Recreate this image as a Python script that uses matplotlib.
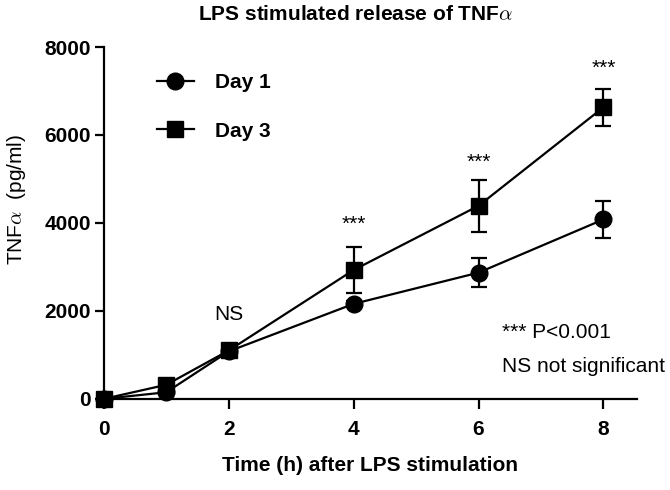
import matplotlib
matplotlib.use('Agg')
import matplotlib.pyplot as plt
from matplotlib.lines import Line2D

plt.rcParams['font.family'] = ['Liberation Sans', 'DejaVu Sans']
plt.rcParams['mathtext.fontset'] = 'cm'

# data
times = [0, 1, 2, 4, 6, 8]
day1 = [0, 150, 1080, 2160, 2870, 4080]
day1_err = [0, 0, 0, 60, 335, 420]
day3 = [0, 320, 1100, 2930, 4390, 6630]
day3_err = [0, 0, 0, 525, 590, 425]

star_x = [4, 6, 8]
star_y = [3980, 5370, 7520]
ns_x, ns_y = 2, 1910

fig = plt.figure(figsize=(6.7, 4.9), dpi=100)
ax = fig.add_axes([0.155, 0.186, 0.796, 0.718])

style = dict(color='black', lw=1.6, elinewidth=1.6, capsize=6, capthick=1.6, clip_on=False)
ax.errorbar(times, day1, yerr=day1_err, fmt='-o', ms=12, zorder=3, **style)
ax.errorbar(times, day3, yerr=day3_err, fmt='-s', ms=11, zorder=4, **style)

for x, y in zip(star_x, star_y):
    ax.text(x, y, '***', ha='center', va='center', fontsize=15)
ax.text(ns_x, ns_y, 'NS', ha='center', va='center', fontsize=15)
ax.text(6.38, 1500, '*** P<0.001', ha='left', va='center', fontsize=15)
ax.text(6.38, 730, 'NS not significant', ha='left', va='center', fontsize=15)

ax.set_xlim(0, 8.54)
ax.set_ylim(0, 8000)
ax.set_xticks([0, 2, 4, 6, 8])
ax.set_yticks([0, 2000, 4000, 6000, 8000])
ax.spines['top'].set_visible(False)
ax.spines['right'].set_visible(False)
ax.spines['left'].set_linewidth(1.6)
ax.spines['bottom'].set_linewidth(1.6)
ax.tick_params(axis='x', length=7, width=1.6, pad=8, labelsize=15)
ax.tick_params(axis='y', length=6.5, width=1.6, pad=3, labelsize=15)
for lab in ax.get_xticklabels() + ax.get_yticklabels():
    lab.set_fontweight('bold')

handles = [Line2D([], [], color='black', lw=1.6, marker='o', ms=12),
           Line2D([], [], color='black', lw=1.6, marker='s', ms=11)]
ax.legend(handles, ['Day 1', 'Day 3'], loc='upper left', bbox_to_anchor=(0.099, 0.925),
          frameon=False, handlelength=1.8, handletextpad=1.0, labelspacing=1.4,
          borderpad=0, borderaxespad=0, prop={'weight': 'bold', 'size': 15})

fig.text(0.531, 0.971, r'LPS stimulated release of TNF$\alpha$', ha='center', va='center',
         fontsize=15, fontweight='bold')
fig.text(0.552, 0.051, 'Time (h) after LPS stimulation', ha='center', va='center',
         fontsize=15, fontweight='bold')
fig.text(0.024, 0.592, r'TNF$\alpha$  (pg/ml)', ha='center', va='center', rotation=90,
         fontsize=15)

fig.savefig('out.png', dpi=100)
